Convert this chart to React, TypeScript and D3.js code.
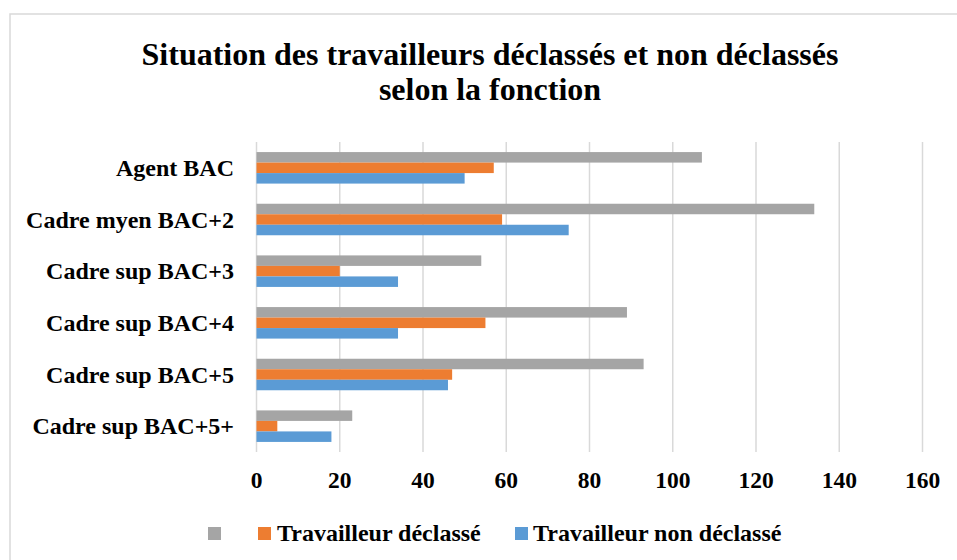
import React from "react";
import * as d3 from "d3";

const categories = [
  "Agent BAC",
  "Cadre myen BAC+2",
  "Cadre sup BAC+3",
  "Cadre sup BAC+4",
  "Cadre sup BAC+5",
  "Cadre sup BAC+5+",
];
const seriesNames = ["", "Travailleur déclassé", "Travailleur non déclassé"];
const seriesColors = ["#A5A5A5", "#ED7D31", "#5B9BD5"];
const totalValues = [107, 134, 54, 89, 93, 23];
const declasseValues = [57, 59, 20, 55, 47, 5];
const nonDeclasseValues = [50, 75, 34, 34, 46, 18];
const xTicks = [0, 20, 40, 60, 80, 100, 120, 140, 160];
const titleLines = [
  "Situation des travailleurs déclassés et non déclassés",
  "selon la fonction",
];

const W = 957;
const H = 560;
const FONT = "'Liberation Serif', 'Times New Roman', serif";

export default function App() {
  const series = [totalValues, declasseValues, nonDeclasseValues];
  const x = d3.scaleLinear().domain([0, 160]).range([256.5, 922.5]);
  const y = d3
    .scaleBand<string>()
    .domain(categories)
    .range([142, 452])
    .paddingInner(0.39)
    .paddingOuter(0.195);
  const inner = d3
    .scaleBand<number>()
    .domain([0, 1, 2])
    .range([0, y.bandwidth()]);

  const legendItems = [
    { sq: 208, tx: 0 },
    { sq: 258, tx: 277 },
    { sq: 515, tx: 533 },
  ];

  return (
    <svg
      width={W}
      height={H}
      style={{ position: "absolute", left: 0, top: 0, background: "#fff" }}
      fontFamily={FONT}
    >
      <rect x={0} y={0} width={W} height={H} fill="#fff" />
      <rect
        x={10}
        y={14}
        width={W + 20}
        height={H + 20}
        fill="#fff"
        stroke="#D9D9D9"
        strokeWidth={1.5}
      />
      {titleLines.map((t, i) => (
        <text
          key={i}
          x={490}
          y={65 + i * 35}
          textAnchor="middle"
          fontSize={32}
          fontWeight="bold"
          fill="#000"
        >
          {t}
        </text>
      ))}
      {xTicks.map((t) => (
        <line
          key={"g" + t}
          x1={x(t)}
          x2={x(t)}
          y1={142}
          y2={452}
          stroke="#D9D9D9"
          strokeWidth={1.5}
        />
      ))}
      {categories.map((c, ci) =>
        series.map((vals, si) => (
          <rect
            key={c + si}
            x={x(0)}
            y={(y(c) as number) + (inner(si) as number)}
            width={x(vals[ci]) - x(0)}
            height={inner.bandwidth()}
            fill={seriesColors[si]}
          />
        ))
      )}
      {categories.map((c) => (
        <text
          key={"l" + c}
          x={234}
          y={(y(c) as number) + y.bandwidth() / 2}
          dy="0.34em"
          textAnchor="end"
          fontSize={24}
          fontWeight="bold"
          fill="#000"
        >
          {c}
        </text>
      ))}
      {xTicks.map((t) => (
        <text
          key={"t" + t}
          x={x(t)}
          y={488}
          textAnchor="middle"
          fontSize={23.5}
          fontWeight="bold"
          fill="#000"
        >
          {t}
        </text>
      ))}
      {legendItems.map((l, i) => (
        <g key={"lg" + i}>
          <rect x={l.sq} y={527} width={13} height={13} fill={seriesColors[i]} />
          {seriesNames[i] ? (
            <text
              x={l.tx}
              y={541}
              fontSize={24}
              fontWeight="bold"
              fill="#000"
            >
              {seriesNames[i]}
            </text>
          ) : null}
        </g>
      ))}
    </svg>
  );
}
